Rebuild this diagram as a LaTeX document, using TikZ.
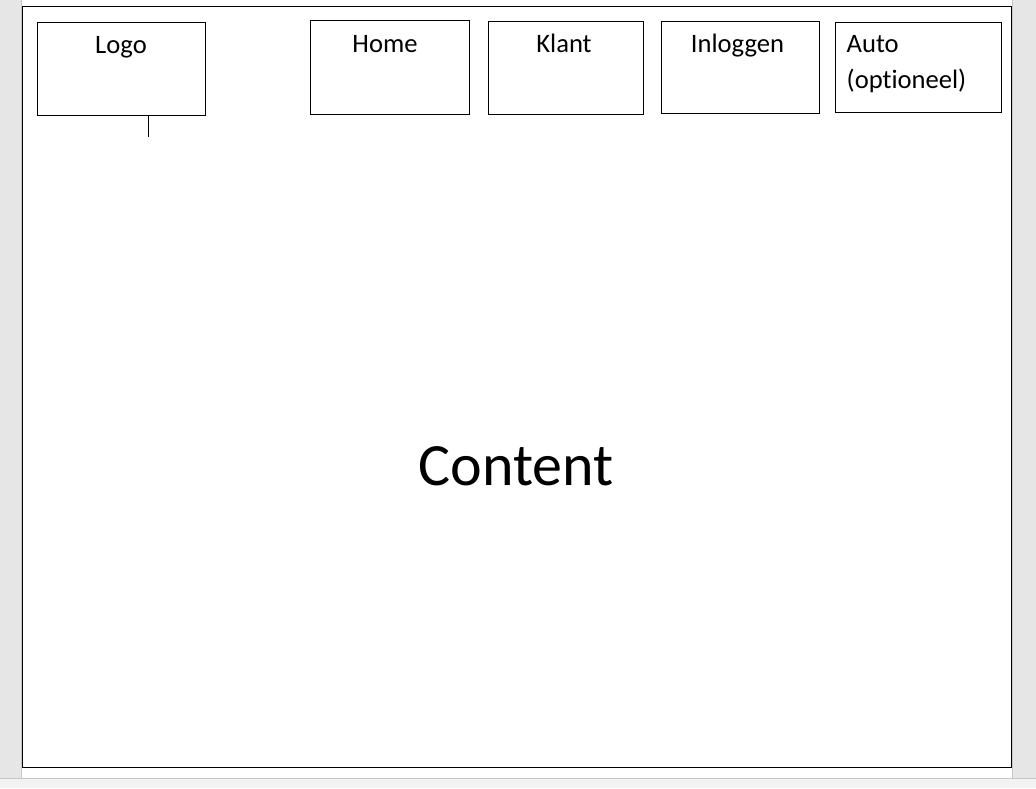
\documentclass[tikz,border=0pt]{standalone}
\usepackage{fontspec}
\setmainfont{Carlito}[Ligatures=NoCommon]
\usetikzlibrary{positioning}
\definecolor{pagegrey}{HTML}{E6E6E6}
\definecolor{bargrey}{HTML}{F2F2F2}
\definecolor{edgegrey}{HTML}{C8C8C8}

\begin{document}
\begin{tikzpicture}[
        x=1pt, y=-1pt,
        navbox/.style={draw, line width=0.9pt, anchor=north west, inner sep=0pt},
        navtext/.style={anchor=base, font=\fontsize{26.6}{36}\selectfont}
    ]
    \useasboundingbox (0,0) rectangle (1036,788);
    % window around the page
    \fill[pagegrey] (0,0) rectangle (1036,788);
    \fill[white] (22,0) rectangle (1012,778);
    \fill[bargrey] (0,778) rectangle (1036,788);
    \draw[edgegrey] (21.5,0) -- (21.5,778) (1012.5,0) -- (1012.5,778) (0,778.5) -- (1036,778.5);

    % page frame
    \node [draw, line width=1.2pt, anchor=north west, inner sep=0pt,
        minimum width=989pt, minimum height=761pt] (page) at (22,6) {};

    % menu boxes
    \node [navbox, minimum width=168pt, minimum height=93pt] (logo) at (37,22) {};
    \node [navbox, minimum width=159pt, minimum height=94pt] (home) at (310,20) {};
    \node [navbox, minimum width=155pt, minimum height=93pt] (klant) at (488,21) {};
    \node [navbox, minimum width=158pt, minimum height=92pt] (inlog) at (661,21) {};
    \node [navbox, minimum width=166pt, minimum height=90pt] (auto) at (835,22) {};

    \node [navtext] at (121,53) {Logo};
    \node [navtext] at (385,52) {Home};
    \node [navtext] at (564,52) {Klant};
    \node [navtext] at (737.5,52) {Inloggen};
    \node [navtext, anchor=base west, align=left, inner sep=0pt] at (846.5,88) {Auto\\(optioneel)};

    \coordinate (tick) at (148,137);
    \draw [line width=0.8pt] (logo.south -| tick) -- (tick);

    \node [font=\fontsize{60}{72}\selectfont, anchor=base] (content) at (516,485) {Content};
\end{tikzpicture}
\end{document}
